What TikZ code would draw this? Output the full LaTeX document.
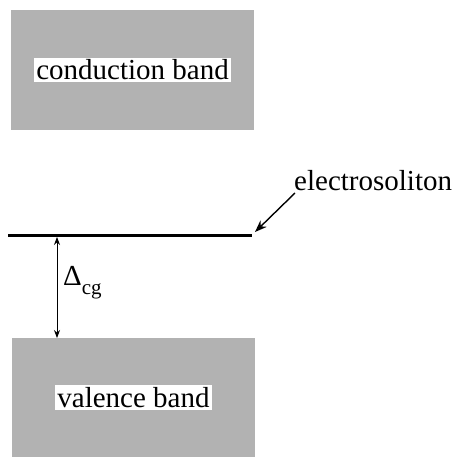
\documentclass[tikz,border=0pt]{standalone}
\usepackage{fontspec}
\setmainfont{Liberation Serif}
\usetikzlibrary{calc, positioning}
\usetikzlibrary{arrows.meta}

\begin{document}
\begin{tikzpicture}[x=1pt, y=-1pt,
  band/.style={fill=black!30, draw=none, minimum width=243pt, inner sep=0pt},
  bandlabel/.style={fill=white, inner sep=2pt},
  every node/.append style={font=\fontsize{29}{34}\selectfont}]
\useasboundingbox (0,0) rectangle (454,457);

\node[band, minimum height=120pt] (CB) at (132.5,70) {};
\node[band, minimum height=119pt] (VB) at (133.5,397.5) {};
\node[bandlabel] (CBL) at (CB.center) {conduction band};
\node[bandlabel] (VBL) at (VB.center) {valence band};

\coordinate (L1) at (8,235);
\coordinate (L2) at (252,235);
\coordinate (G1) at (57,237);
\coordinate (G2) at (57,338);

\draw[line width=3pt] (L1) -- (L2);
\draw[{Stealth[length=8pt,width=6pt]}-{Stealth[length=8pt,width=6pt]}, line width=0.8pt] (G1) -- (G2);

\node[anchor=base west, inner sep=0pt] (gap) at (63,285)
  {Δ\raisebox{-9pt}{\fontsize{21}{24}\selectfont cg}};
\node[anchor=base west, inner sep=0pt] (ES) at (294,190) {electrosoliton};
\coordinate (E1) at (295,193);
\coordinate (E2) at (255,232);
\draw[-{Stealth[length=12pt,width=9pt]}, line width=1.4pt] (E1) -- (E2);
\end{tikzpicture}
\end{document}
